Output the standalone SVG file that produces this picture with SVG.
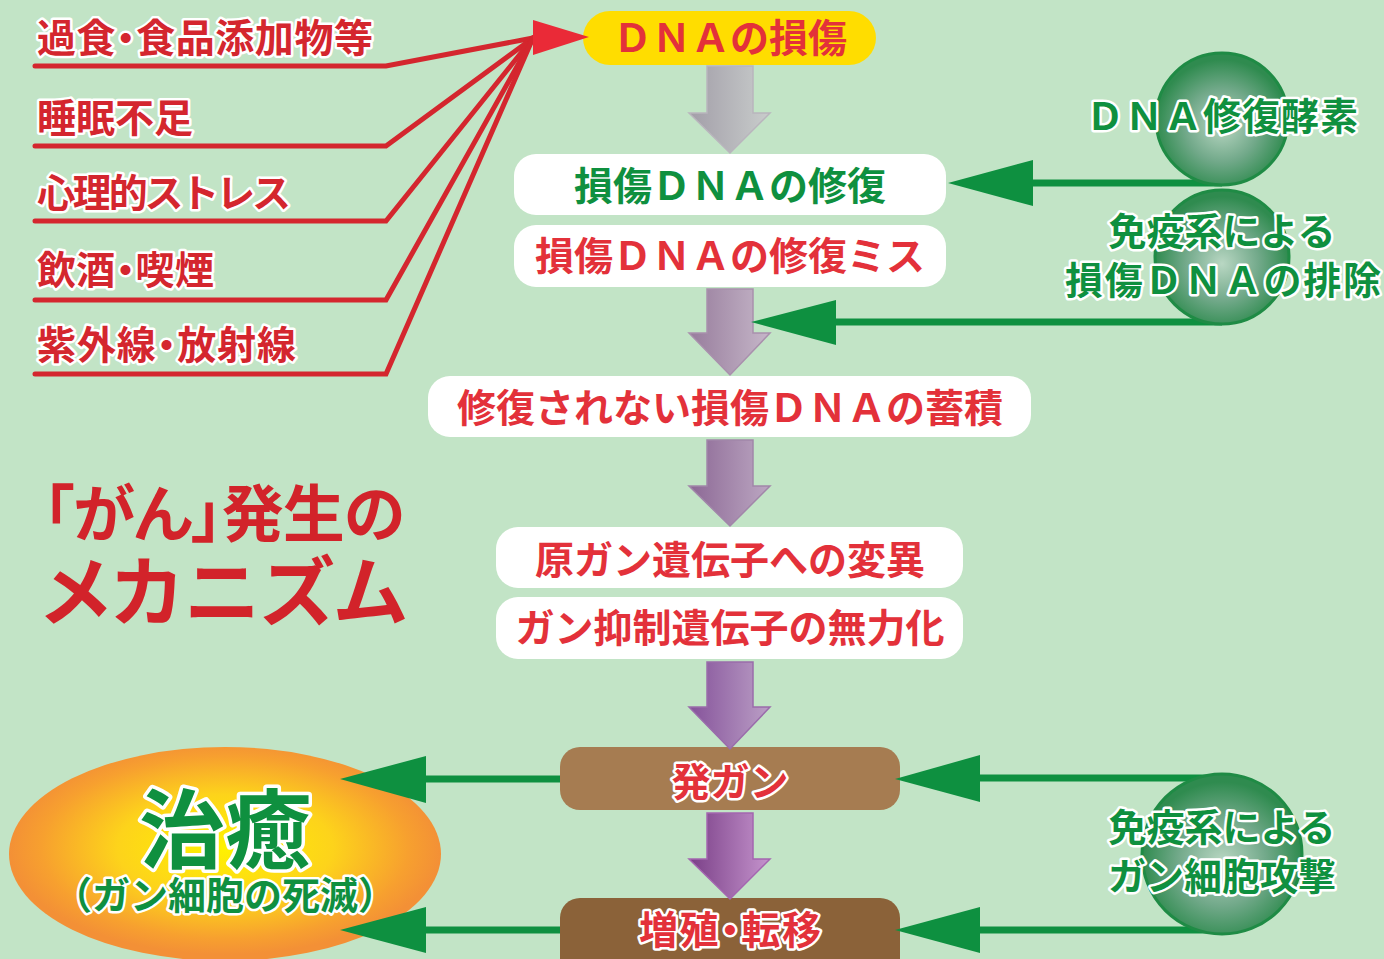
<svg xmlns="http://www.w3.org/2000/svg" width="1384" height="959" viewBox="0 0 1384 959">
<defs>
 <linearGradient id="ga1" x1="0" x2="1" y1="0" y2="0"><stop offset="0" stop-color="#a29ea8"/><stop offset="1" stop-color="#c9cdcc"/></linearGradient>
 <linearGradient id="ga2" x1="0" x2="1" y1="0" y2="0"><stop offset="0" stop-color="#977c9c"/><stop offset="1" stop-color="#c6b7c9"/></linearGradient>
 <linearGradient id="ga3" x1="0" x2="1" y1="0" y2="0"><stop offset="0" stop-color="#8c6895"/><stop offset="1" stop-color="#bca7c2"/></linearGradient>
 <linearGradient id="ga4" x1="0" x2="1" y1="0" y2="0"><stop offset="0" stop-color="#85529a"/><stop offset="1" stop-color="#bb9fc6"/></linearGradient>
 <linearGradient id="ga5" x1="0" x2="1" y1="0" y2="0"><stop offset="0" stop-color="#7a3f87"/><stop offset="1" stop-color="#c594cd"/></linearGradient>
 <radialGradient id="gball" cx="0.5" cy="0.55" r="0.5"><stop offset="0" stop-color="#b9d7c3"/><stop offset="0.55" stop-color="#72a98a"/><stop offset="1" stop-color="#2f8b4f"/></radialGradient>
 <radialGradient id="goval" cx="0.5" cy="0.47" r="0.5"><stop offset="0" stop-color="#fff200"/><stop offset="0.5" stop-color="#fdd31b"/><stop offset="0.85" stop-color="#f7a02f"/><stop offset="1" stop-color="#f39036"/></radialGradient>
</defs>
<style>
 .t{font-family:"Noto Sans CJK JP","Noto Sans CJK SC",sans-serif;font-weight:700}
 .red{fill:#e3313a}
 .lred{fill:#d4262e}
 .grn{fill:#0f903f}
 .ol{stroke:#fff;stroke-width:5;stroke-linejoin:round;paint-order:stroke}
 .rl{fill:none;stroke:#d4262e;stroke-width:5;stroke-linecap:round;stroke-linejoin:miter}
 .gl{fill:none;stroke:#0e9040;stroke-width:7}
 .gh{fill:#0e9040}
 .wb{fill:#fff}
 .arr{stroke-width:1.5;stroke-linejoin:miter}
 .ball{fill:url(#gball);stroke:#1f8b45;stroke-width:3}
 .palt{font-feature-settings:"palt"}
</style>
<rect width="1384" height="959" fill="#c2e4c6"/>

<g id="node-cure">
 <ellipse cx="225" cy="854" rx="216" ry="107" fill="url(#goval)"/>
 <text class="t grn ol" x="225" y="862" font-size="86" text-anchor="middle" style="stroke-width:7">治癒</text>
 <text class="t grn ol" x="225" y="909" font-size="38" text-anchor="middle">（ガン細胞の死滅）</text>
</g>

<g id="node-causes">
 <text class="t lred ol palt" x="37" y="52" font-size="39" textLength="336">過食・食品添加物等</text>
 <text class="t lred ol" x="37" y="132" font-size="39">睡眠不足</text>
 <text class="t lred ol" x="37" y="207" font-size="39" textLength="254">心理的ストレス</text>
 <text class="t lred ol palt" x="37" y="284" font-size="39" textLength="177">飲酒・喫煙</text>
 <text class="t lred ol palt" x="37" y="359" font-size="39" textLength="259">紫外線・放射線</text>
</g>

<g id="node-dna-damage">
 <rect x="583" y="11" width="293" height="54" rx="27" fill="#ffdd00"/>
 <text class="t red" x="730" y="52" font-size="39" text-anchor="middle">ＤＮＡの損傷</text>
</g>
<g id="node-repair">
 <rect class="wb" x="514" y="154" width="432" height="61" rx="22"/>
 <text class="t grn" x="730" y="200" font-size="39" text-anchor="middle">損傷ＤＮＡの修復</text>
</g>
<g id="node-repair-miss">
 <rect class="wb" x="514" y="225" width="432" height="62" rx="22"/>
 <text class="t red" x="730" y="270" font-size="39" text-anchor="middle">損傷ＤＮＡの修復ミス</text>
</g>
<g id="node-accumulation">
 <rect class="wb" x="428" y="376" width="603" height="61" rx="22"/>
 <text class="t red" x="730" y="422" font-size="39" text-anchor="middle">修復されない損傷ＤＮＡの蓄積</text>
</g>
<g id="node-oncogene">
 <rect class="wb" x="496" y="527" width="467" height="61" rx="22"/>
 <text class="t red" x="730" y="574" font-size="39" text-anchor="middle">原ガン遺伝子への変異</text>
</g>
<g id="node-suppressor">
 <rect class="wb" x="496" y="597" width="467" height="62" rx="22"/>
 <text class="t red" x="730" y="642" font-size="39" text-anchor="middle">ガン抑制遺伝子の無力化</text>
</g>
<g id="node-onset">
 <rect x="560" y="747" width="340" height="63" rx="20" fill="#a67c51"/>
 <text class="t red ol" x="730" y="796" font-size="39" text-anchor="middle">発ガン</text>
</g>
<g id="node-spread">
 <rect x="560" y="898" width="340" height="80" rx="20" fill="#8b6239"/>
 <text class="t red ol palt" x="639" y="944" font-size="39" textLength="182">増殖・転移</text>
</g>

<g id="connectors">
 <polyline class="rl" points="35,66 386,66 533,38"/>
 <polyline class="rl" points="35,146 386,146 533,38"/>
 <polyline class="rl" points="35,221 386,221 533,38"/>
 <polyline class="rl" points="35,300 386,300 533,38"/>
 <polyline class="rl" points="35,374 386,374 533,38"/>
 <polygon points="533,20 589,37 533,55" fill="#ea2a37"/>

 <polygon class="arr" fill="url(#ga1)" stroke="#b9b5bd" points="707,66 753,66 753,113 770,113 730,153 689,113 707,113"/>
 <polygon class="arr" fill="url(#ga2)" stroke="#a990ad" points="707,289 753,289 753,333 770,333 730,375 689,333 707,333"/>
 <polygon class="arr" fill="url(#ga3)" stroke="#a186a9" points="707,440 753,440 753,486 770,486 730,526 689,486 707,486"/>
 <polygon class="arr" fill="url(#ga4)" stroke="#9a6cab" points="707,662 753,662 753,707 770,707 730,749 689,707 707,707"/>
 <polygon class="arr" fill="url(#ga5)" stroke="#a466b0" points="707,813 753,813 753,859 770,859 730,899 689,859 707,859"/>

 <line class="gl" x1="1222" y1="183" x2="1030" y2="183"/>
 <polygon class="gh" points="1033,160 948,183 1033,206"/>
 <line class="gl" x1="1222" y1="322" x2="833" y2="322"/>
 <polygon class="gh" points="836,300 751,322 836,345"/>
 <line class="gl" x1="1222" y1="778" x2="978" y2="778"/>
 <polygon class="gh" points="980,755 895,779 980,802"/>
 <line class="gl" x1="1222" y1="930" x2="978" y2="930"/>
 <polygon class="gh" points="980,907 895,930 980,953"/>
 <line class="gl" x1="560" y1="779" x2="423" y2="779"/>
 <polygon class="gh" points="426,756 340,779 426,803"/>
 <line class="gl" x1="560" y1="930" x2="423" y2="930"/>
 <polygon class="gh" points="426,907 340,930 426,953"/>
</g>

<g id="node-enzyme">
 <circle class="ball" cx="1222" cy="119" r="66"/>
 <text class="t grn ol" x="1222" y="130" font-size="38" text-anchor="middle" textLength="272">ＤＮＡ修復酵素</text>
</g>
<g id="node-immune-removal">
 <circle class="ball" cx="1222" cy="257" r="67"/>
 <text class="t grn ol" x="1222" y="245" font-size="38" text-anchor="middle">免疫系による</text>
 <text class="t grn ol" x="1223" y="294" font-size="38" text-anchor="middle" textLength="316">損傷ＤＮＡの排除</text>
</g>
<g id="node-immune-attack">
 <circle class="ball" cx="1222" cy="854" r="80"/>
 <text class="t grn ol" x="1222" y="841" font-size="38" text-anchor="middle">免疫系による</text>
 <text class="t grn ol" x="1222" y="890" font-size="38" text-anchor="middle">ガン細胞攻撃</text>
</g>

<g id="title">
 <text class="t palt" fill="#d2232a" font-size="62" x="43" y="537" textLength="362">「がん」発生の</text>
 <text class="t palt" fill="#d2232a" font-size="76" x="42" y="620" textLength="364">メカニズム</text>
</g>
</svg>
